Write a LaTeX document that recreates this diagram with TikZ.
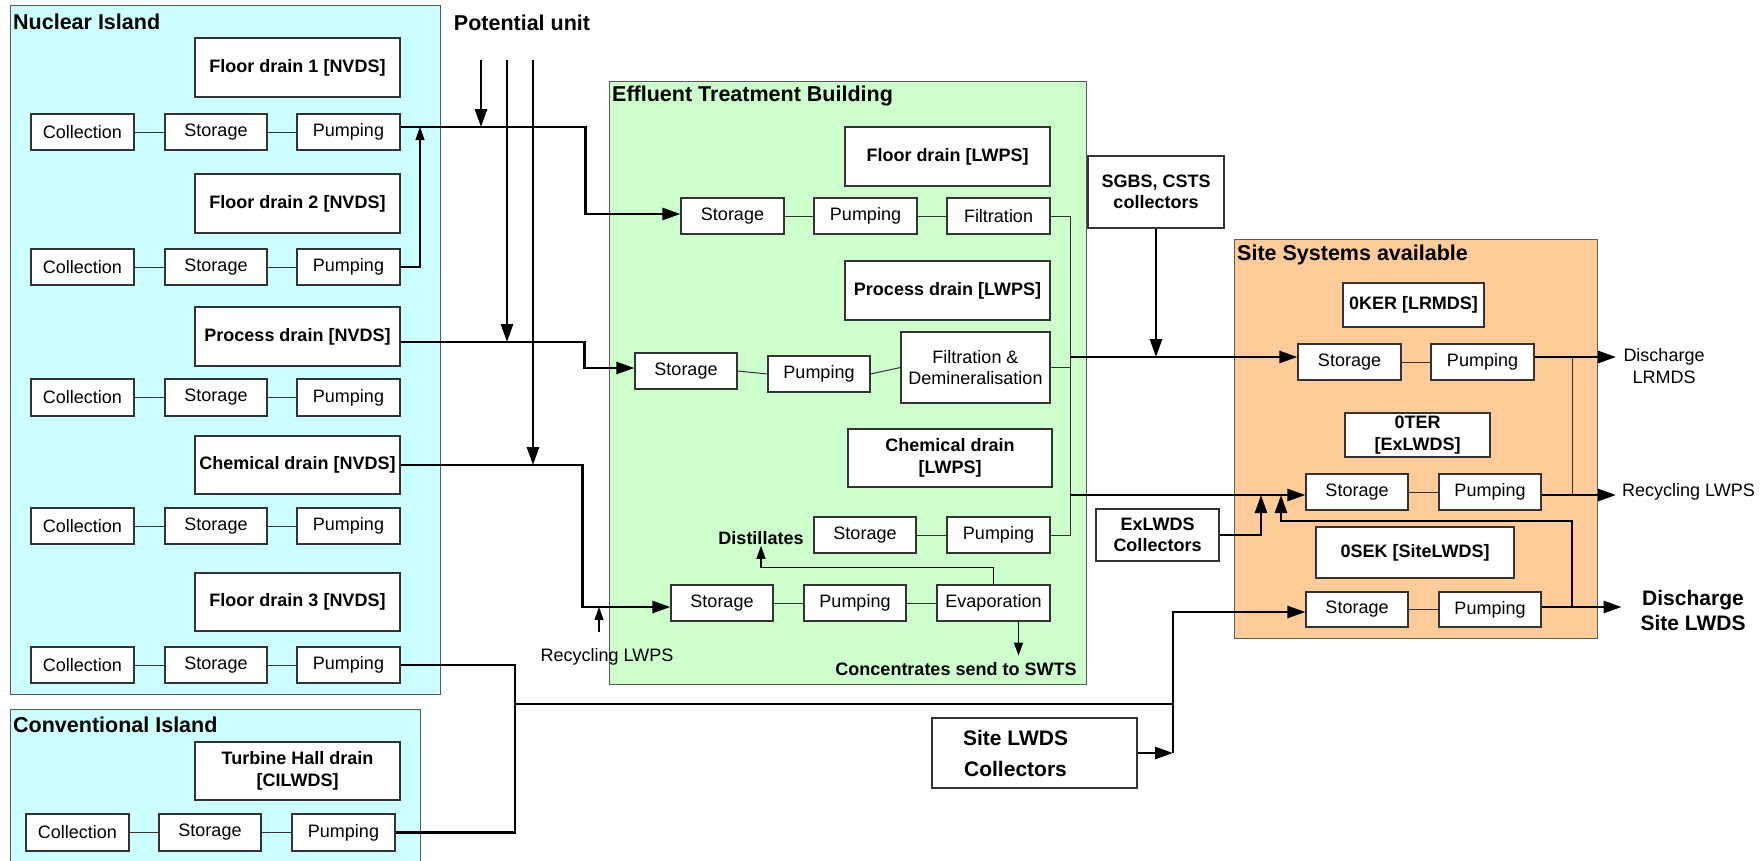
\documentclass[tikz,border=0pt]{standalone}
\usepackage{fontspec}
\setmainfont{Liberation Sans}
\usetikzlibrary{arrows.meta}
\definecolor{nicol}{HTML}{CCFFFF}
\definecolor{etbcol}{HTML}{CCFFCC}
\definecolor{sitecol}{HTML}{FFCC99}
\newcommand\fsnorm{\fontsize{18}{21.5}\selectfont}
\newcommand\fsbold{\fontsize{18}{21.5}\selectfont\bfseries}
\newcommand\fsttl{\fontsize{21.5}{25}\selectfont\bfseries}
\newcommand\fsbig{\fontsize{21}{25}\selectfont\bfseries}
\tikzset{
 box/.style={draw=black!80, fill=white, line width=1.2pt, inner sep=1pt, align=center, font=\fsnorm},
 lbl/.style={box, font=\fsbold},
 cont/.style={draw=black!65, line width=1.2pt},
 ttl/.style={anchor=west, font=\fsttl, inner sep=0pt},
 flow/.style={line width=2.6pt, -{Triangle[length=18pt,width=12pt]}},
 pipe/.style={line width=2.6pt},
 link/.style={line width=1pt, draw=black!80},
 tflow/.style={line width=1.2pt, -{Triangle[length=13pt,width=9pt]}},
 txt/.style={font=\fsnorm, inner sep=0pt, align=center},
}
\newcommand{\bx}[7][]{\node[box,#1,minimum width={(#5-#3)*1pt},minimum height={(#6-#4)*1pt}] (#2) at ({(#3+#5)/2},{(#4+#6)/2}) {#7};}
\begin{document}
\begin{tikzpicture}[x=1pt,y=-1pt]
\useasboundingbox (0,0) rectangle (1764,860);
% containers
\node[cont, fill=nicol, anchor=north west, minimum width=430pt, minimum height=689pt, inner sep=0pt] (ni) at (10,5) {};
\node[cont, fill=nicol, anchor=north west, minimum width=410pt, minimum height=160pt, inner sep=0pt] (ci) at (10,709) {};
\node[cont, fill=etbcol, anchor=north west, minimum width=477pt, minimum height=603pt, inner sep=0pt] (etb) at (609,81) {};
\node[cont, fill=sitecol, anchor=north west, minimum width=363pt, minimum height=399pt, inner sep=0pt] (site) at (1234,239) {};
\node[ttl] (nit) at (13,22) {Nuclear Island};
\node[ttl] (cit) at (13,725) {Conventional Island};
\node[ttl] (etbt) at (612,96) {Effluent Treatment Building};
\node[ttl] (sitet) at (1237,255) {Site Systems available};
\node[font=\fsttl, inner sep=0pt] (put) at (522,23) {Potential unit};

% Nuclear island
\bx[lbl]{fd1}{195}{38}{400}{97}{Floor drain 1 [NVDS]}
\bx[lbl]{fd2}{195}{174}{400}{233}{Floor drain 2 [NVDS]}
\bx[lbl]{pd}{195}{307}{400}{366}{Process drain [NVDS]}
\bx[lbl]{cd}{195}{436}{400}{494}{Chemical drain [NVDS]}
\bx[lbl]{fd3}{195}{573}{400}{631}{Floor drain 3 [NVDS]}
\bx{nic1}{31}{114}{134}{150}{Collection}
\bx{nis1}{165}{114}{267}{150}{Storage}
\bx{nip1}{297}{114}{400}{150}{Pumping}
\bx{nic2}{31}{249}{134}{285}{Collection}
\bx{nis2}{165}{249}{267}{285}{Storage}
\bx{nip2}{297}{249}{400}{285}{Pumping}
\bx{nic3}{31}{379}{134}{416}{Collection}
\bx{nis3}{165}{379}{267}{416}{Storage}
\bx{nip3}{297}{379}{400}{416}{Pumping}
\bx{nic4}{31}{508}{134}{544}{Collection}
\bx{nis4}{165}{508}{267}{544}{Storage}
\bx{nip4}{297}{508}{400}{544}{Pumping}
\bx{nic5}{31}{647}{134}{683}{Collection}
\bx{nis5}{165}{647}{267}{683}{Storage}
\bx{nip5}{297}{647}{400}{683}{Pumping}
% Conventional island
\bx[lbl]{thd}{195}{742}{400}{800}{Turbine Hall drain\\{[CILWDS]}}
\bx{cic}{26}{814}{129}{851}{Collection}
\bx{cis}{159}{814}{261}{851}{Storage}
\bx{cip}{292}{814}{395}{851}{Pumping}
\foreach \i in {1,...,5} {
  \draw[link] (nic\i.east) -- (nis\i.west);
  \draw[link] (nis\i.east) -- (nip\i.west);
}
\draw[link] (cic.east) -- (cis.west);
\draw[link] (cis.east) -- (cip.west);

% ETB
\bx[lbl]{fdl}{845}{127}{1050}{186}{Floor drain [LWPS]}
\bx{es1}{681}{198}{784}{234}{Storage}
\bx{ep1}{814}{198}{917}{234}{Pumping}
\bx{ef1}{947}{198}{1050}{234}{Filtration}
\bx[lbl]{pdl}{845}{261}{1050}{320}{Process drain [LWPS]}
\bx{es2}{635}{353}{737}{389}{Storage}
\bx{ep2}{768}{356}{870}{392}{Pumping}
\bx{efd}{901}{332}{1050}{403}{Filtration \&\\Demineralisation}
\bx[lbl]{cdl}{848}{429}{1052}{487}{Chemical drain\\{[LWPS]}}
\bx{ecs}{814}{517}{916}{553}{Storage}
\bx{ecp}{947}{517}{1050}{553}{Pumping}
\bx{est3}{671}{585}{773}{621}{Storage}
\bx{etp3}{804}{585}{906}{621}{Pumping}
\bx{eev}{937}{585}{1050}{621}{Evaporation}
\draw[link] (es1.east) -- (ep1.west);
\draw[link] (ep1.east) -- (ef1.west);
\draw[link] (es2.east) -- (ep2.west);
\draw[link] (ep2.east) -- (efd.west);
\draw[link] (ecs.east) -- (ecp.west);
\draw[link] (est3.east) -- (etp3.west);
\draw[link] (etp3.east) -- (eev.west);
\node[font=\fsbold, inner sep=1pt] (dist) at (761,538) {Distillates};
\node[font=\fsbold, inner sep=0pt] (conc) at (956,669) {Concentrates send to SWTS};
\node[txt] (rlt) at (607,657) {Recycling LWPS};
\draw[tflow] (eev.north) -- ++(0,-17) -| (dist.south);
\draw[tflow] ([xshift=25pt]eev.south) -- ++(0,34);
\coordinate (rl) at (599,632);
\coordinate (t3) at ([yshift=-4pt]est3.west);
\draw[tflow] (rl) -- (rl |- t3);
\coordinate (vx) at (1070,0);
\draw[link] (ef1.east) -| (vx |- ecp.east) -- (ecp.east);
\draw[link] (efd.east) -- (efd.east -| vx);

% Site systems
\bx[lbl]{oker}{1343}{283}{1484}{327}{0KER [LRMDS]}
\bx{sst1}{1298}{344}{1401}{380}{Storage}
\bx{spp1}{1431}{344}{1534}{380}{Pumping}
\bx[lbl]{oter}{1345}{413}{1490}{457}{0TER\\{[ExLWDS]}}
\bx{sst2}{1306}{474}{1408}{510}{Storage}
\bx{spp2}{1439}{474}{1541}{510}{Pumping}
\bx[lbl, line width=2.2pt]{osek}{1316}{527}{1514}{578}{0SEK [SiteLWDS]}
\bx{sst3}{1306}{592}{1408}{627}{Storage}
\bx{spp3}{1439}{592}{1541}{627}{Pumping}
\draw[link] (sst1.east) -- (spp1.west);
\draw[link] (sst2.east) -- (spp2.west);
\draw[link] (sst3.east) -- (spp3.west);

% outside boxes
\bx[lbl]{sgbs}{1088}{156}{1224}{228}{SGBS, CSTS\\collectors}
\bx[lbl]{exl}{1096}{509}{1219}{561}{ExLWDS\\Collectors}
\bx[box, font=\fontsize{21}{31}\selectfont\bfseries, line width=2.2pt]{slwds}{932}{718}{1137}{788}{Site LWDS\hspace*{38pt}\\Collectors\hspace*{38pt}}

% entry points
\coordinate (r1) at ([yshift=5pt]nip1.east);
\coordinate (r2) at ([yshift=-5.5pt]pd.east);
\coordinate (s1) at ([yshift=2pt]es1.west);
\coordinate (s2) at ([yshift=3pt]es2.west);
\coordinate (k1) at ([yshift=5pt]sst1.west);
\coordinate (k2) at ([yshift=-3pt]sst2.west);
\coordinate (k3) at ([yshift=-2.5pt]sst3.west);

% potential unit arrows
\coordinate (pu1) at (481,60);
\coordinate (pu2) at (507,60);
\coordinate (pu3) at (533,60);
\draw[flow] (pu1) -- (pu1 |- r1);
\draw[flow] (pu2) -- (pu2 |- r2);
\draw[flow] (pu3) -- (pu3 |- cd.east);

% main flows to ETB
\draw[flow] (r1) -- ++(185,0) |- (s1);
\draw[flow] (r2) -- ++(184,0) |- (s2);
\draw[flow] (cd.east) -- ++(182,0) |- (t3);
\coordinate (ua) at (420,0);
\draw[tflow] (nip2.east) -| (ua |- r1);

% floor drain 3 and CI to site
\coordinate (xB) at (515,704);
\coordinate (xC) at (1173,704);
\draw[pipe] (nip5.east) -| (xB);
\draw[pipe] (cip.east) -| (xB);
\draw[pipe] (xB) -- (xC);
\draw[flow] (xC) |- (k3);
\draw[pipe] (xC) -- (xC |- slwds.east);
\draw[flow] (slwds.east) -- (xC |- slwds.east);

% ETB to site
\draw[flow] (vx |- k1) -- (k1);
\draw[flow] (vx |- k2) -- (k2);
\draw[flow] (sgbs.south) -- (sgbs.south |- k1);
\coordinate (xe) at (1261,0);
\draw[flow] (exl.east) -| (xe |- k2);

% site outputs
\coordinate (ox) at (1616,0);
\coordinate (vr) at (1572,0);
\coordinate (o1) at ([yshift=5pt]spp1.east);
\coordinate (o2) at ([yshift=-3pt]spp2.east);
\coordinate (o3) at ([yshift=2.5pt]spp3.east);
\draw[flow] (o1) -- (ox |- o1);
\draw[flow] (o2) -- (ox |- o2);
\draw[flow] (o3) -- ++(80,0);
\draw[link] (vr |- o1) -- (vr |- o2);
\coordinate (fb) at (1281,521);
\draw[flow] (vr |- o3) |- (fb) -- (fb |- k2);
\node[txt] (dlr) at (1664,366) {Discharge\\LRMDS};
\node[txt, anchor=west] (rcl) at (1622,492) {Recycling LWPS};
\node[font=\fsbig, inner sep=0pt, align=center] (dsl) at (1693,610) {Discharge\\Site LWDS};
\end{tikzpicture}
\end{document}
